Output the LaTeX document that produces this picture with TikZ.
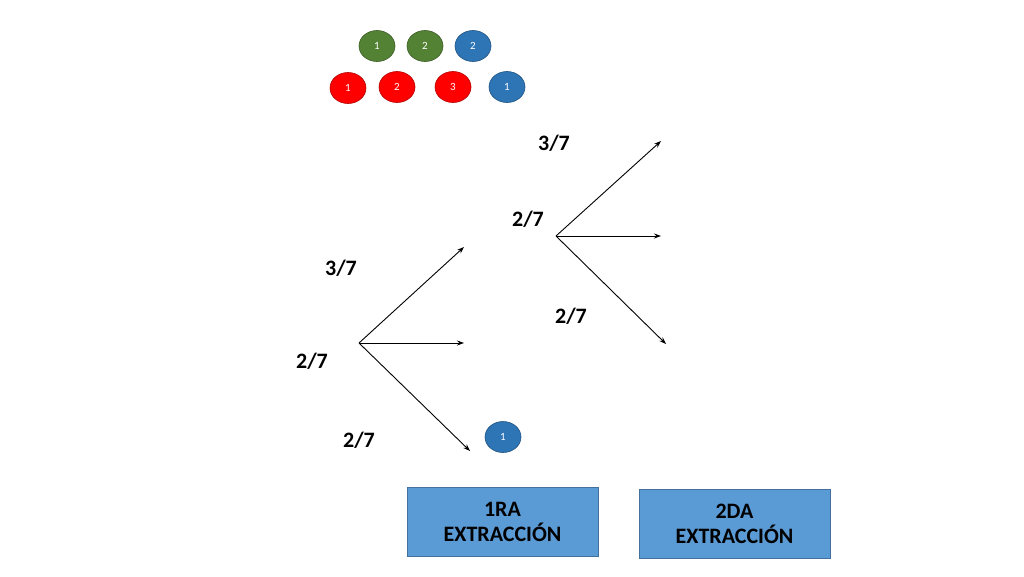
\documentclass[tikz,border=0pt]{standalone}
\usepackage{fontspec}
\setmainfont{Carlito}
\usetikzlibrary{arrows.meta}
\definecolor{gr}{HTML}{548235}
\definecolor{bl}{HTML}{2E75B6}
\definecolor{rd}{HTML}{FF0000}
\definecolor{bx}{HTML}{5B9BD5}
\definecolor{bxd}{HTML}{41719C}
\tikzset{
 ball/.style={ellipse,minimum width=36pt,minimum height=31pt,inner sep=0pt,text=white,font=\fontsize{11}{11}\selectfont,draw=#1!70!black,fill=#1,line width=0.6pt},
 prob/.style={font=\bfseries\fontsize{22}{22}\selectfont},
 arr/.style={-{Stealth[length=7pt,width=5pt]},line width=0.9pt},
 lab/.style={draw=bxd,fill=bx,line width=0.9pt,minimum width=191pt,minimum height=69pt,align=center,font=\bfseries\fontsize{22}{25}\selectfont,inner sep=0pt}
}
\usetikzlibrary{shapes.geometric}
\begin{document}
\begin{tikzpicture}[x=1pt,y=-1pt]
\useasboundingbox (0,0) rectangle (1024,576);
\node[ball=gr] (g1) at (377,46) {1};
\node[ball=gr] (g2) at (425,46) {2};
\node[ball=bl] (b2) at (473,46) {2};
\node[ball=rd] (r1) at (348,88) {1};
\node[ball=rd] (r2) at (397,87) {2};
\node[ball=rd] (r3) at (453,87) {3};
\node[ball=bl] (b1) at (507,87) {1};
\node[ball=bl] (b1b) at (503,437) {1};
\coordinate (o1) at (359,343);
\coordinate (e11) at (464,247);
\coordinate (e12) at (464,343);
\coordinate (e13) at (470,451);
\draw[arr] (o1) -- (e11);
\draw[arr] (o1) -- (e12);
\draw[arr] (o1) -- (e13);
\coordinate (o2) at (556,236);
\coordinate (e21) at (661,141);
\coordinate (e22) at (661,236);
\coordinate (e23) at (666,344);
\draw[arr] (o2) -- (e21);
\draw[arr] (o2) -- (e22);
\draw[arr] (o2) -- (e23);
\node[prob] (p1) at (341,268) {3/7};
\node[prob] (p2) at (312,361) {2/7};
\node[prob] (p3) at (359,440) {2/7};
\node[prob] (p4) at (554,143) {3/7};
\node[prob] (p5) at (528,219) {2/7};
\node[prob] (p6) at (571,316) {2/7};
\node[lab] (x1) at (502.5,521.5) {1RA\\EXTRACCIÓN};
\node[lab] (x2) at (734.5,524) {2DA\\EXTRACCIÓN};
\end{tikzpicture}
\end{document}
